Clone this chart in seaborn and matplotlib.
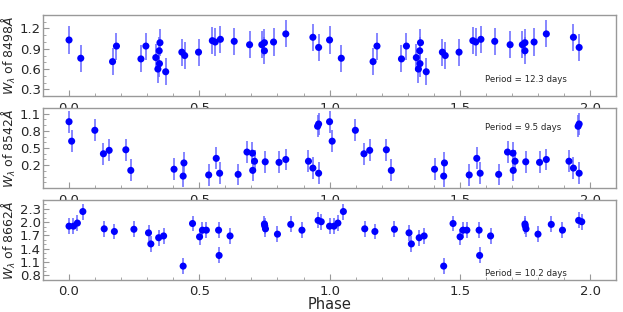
import numpy as np
import pandas as pd
import matplotlib
matplotlib.use("Agg")
import matplotlib.pyplot as plt
import seaborn as sns
from matplotlib.ticker import MultipleLocator

# Phase-folded equivalent widths (one cycle, plotted twice)
phase_8498 = [0.0, 0.045, 0.167, 0.182, 0.276, 0.295, 0.333, 0.346, 0.349, 0.341,
              0.347, 0.371, 0.433, 0.444, 0.497, 0.55, 0.561, 0.581, 0.634, 0.693,
              0.74, 0.75, 0.75, 0.785, 0.832, 0.936, 0.958]
w_8498 = [1.03, 0.76, 0.71, 0.94, 0.75, 0.94, 0.77, 0.87, 0.99, 0.60,
          0.68, 0.56, 0.85, 0.80, 0.85, 1.02, 1.00, 1.04, 1.01, 0.96,
          0.96, 0.99, 0.87, 1.00, 1.12, 1.07, 0.92]
err_8498 = [0.20] * 27

phase_8542 = [0.0, 0.01, 0.099, 0.132, 0.154, 0.218, 0.237, 0.403, 0.438, 0.441,
              0.536, 0.565, 0.578, 0.649, 0.683, 0.704, 0.705, 0.712, 0.753, 0.806,
              0.832, 0.919, 0.936, 0.958, 0.954, 0.958]
w_8542 = [0.96, 0.62, 0.81, 0.40, 0.46, 0.47, 0.11, 0.13, 0.01, 0.24,
          0.03, 0.32, 0.06, 0.04, 0.43, 0.41, 0.11, 0.27, 0.26, 0.25,
          0.30, 0.27, 0.15, 0.06, 0.88, 0.92]
err_8542 = [0.19] * 26

phase_8662 = [0.0, 0.017, 0.032, 0.053, 0.135, 0.174, 0.249, 0.305, 0.314, 0.344,
              0.363, 0.438, 0.474, 0.501, 0.512, 0.527, 0.574, 0.576, 0.618, 0.75,
              0.751, 0.754, 0.8, 0.851, 0.894, 0.956, 0.968]
w_8662 = [1.91, 1.91, 1.98, 2.24, 1.85, 1.79, 1.84, 1.76, 1.51, 1.65,
          1.69, 1.01, 1.97, 1.67, 1.82, 1.82, 1.82, 1.25, 1.69, 1.96,
          1.92, 1.85, 1.73, 1.95, 1.82, 2.04, 2.01]
err_8662 = [0.18] * 27

periods = ["12.3", "9.5", "10.2"]
ylabels = [r"$W_\lambda$ of 8498$\AA$", r"$W_\lambda$ of 8542$\AA$", r"$W_\lambda$ of 8662$\AA$"]
yticks = [[0.3, 0.6, 0.9, 1.2], [0.2, 0.5, 0.8, 1.1], [0.8, 1.1, 1.4, 1.7, 2.0, 2.3]]
ylims = [(0.2, 1.4), (-0.2, 1.2), (0.7, 2.5)]

sns.set_theme(style="white")
plt.rcParams["font.family"] = ["DejaVu Sans"]
plt.rcParams["mathtext.fontset"] = "dejavusans"

fig = plt.figure(figsize=(6.23, 3.12), dpi=100)
boxes = [[0.069, 0.692, 0.92, 0.26], [0.069, 0.397, 0.92, 0.257], [0.069, 0.103, 0.92, 0.256]]
text_y = [0.21, 0.75, 0.075]

series = [(phase_8498, w_8498, err_8498), (phase_8542, w_8542, err_8542), (phase_8662, w_8662, err_8662)]

for i, (ph, w, e) in enumerate(series):
    ax = fig.add_axes(boxes[i], zorder=i + 1)
    ax.set_facecolor("white")
    df = pd.DataFrame({"phase": np.concatenate([ph, np.array(ph) + 1.0]),
                       "w": w + w, "err": e + e})
    ax.errorbar(df["phase"], df["w"], yerr=df["err"], fmt="none",
                ecolor=(0.4, 0.4, 1.0), elinewidth=1.3, alpha=0.85, zorder=2)
    sns.scatterplot(data=df, x="phase", y="w", ax=ax, color="#0000ff", s=26,
                    edgecolor="none", linewidth=0, zorder=3)
    ax.set_xlim(-0.1, 2.1)
    ax.set_ylim(*ylims[i])
    ax.set_xticks([0.0, 0.5, 1.0, 1.5, 2.0])
    ax.xaxis.set_minor_locator(MultipleLocator(0.1))
    ax.set_yticks(yticks[i])
    ax.yaxis.set_minor_locator(MultipleLocator(0.1))
    ax.tick_params(which="both", direction="in", color="#999999", bottom=True, left=True,
                   top=False, right=False, labelsize=9.5)
    ax.tick_params(axis="x", pad=4)
    ax.tick_params(axis="y", pad=1.5)
    ax.tick_params(which="major", length=4, width=0.8)
    ax.tick_params(which="minor", length=2, width=0.6)
    for sp in ax.spines.values():
        sp.set_color("#999999")
        sp.set_linewidth(1.0)
    ax.set_ylabel(ylabels[i], fontsize=9, labelpad=1)
    ax.set_xlabel("Phase" if i == 2 else "", fontsize=10.5, labelpad=-1)
    ax.text(0.772, text_y[i], "Period = %s days" % periods[i], transform=ax.transAxes,
            fontsize=6.2, va="center", ha="left")

fig.savefig("out.png", dpi=100)
